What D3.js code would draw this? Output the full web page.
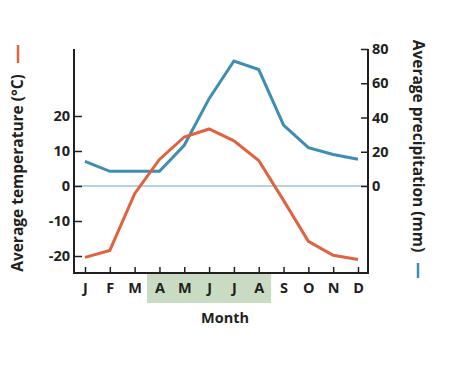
<!DOCTYPE html>
<html><head><meta charset="utf-8">
<script src="https://cdn.jsdelivr.net/npm/d3@7"></script>
<style>
body{margin:0;background:#fff;}
text{font-family:"Open Sans", Lato, sans-serif;font-weight:bold;fill:#231f20;}
</style></head>
<body><svg id="c" width="450" height="366"></svg>
<script>
const months = ["J","F","M","A","M","J","J","A","S","O","N","D"];
const temperature = [-20.4,-18.4,-2.2,7.6,14,16.3,12.9,7.3,-4.1,-15.8,-19.8,-21];
const precipitation = [14.4,8.6,8.6,8.6,23.8,51,73,68,35.5,22.4,18.4,15.6];
const tempTicks = [-20,-10,0,10,20];
const precipTicks = [0,20,40,60,80];
const growingMonths = [3,7]; // A..A index range

const svg = d3.select("#c");
const pLeft = 74, pRight = 368, pTop = 49, pBottom = 273;
const idx = months.map((d,i)=>i);
const x = d3.scalePoint().domain(idx).range([85,358]);
const yT = d3.scaleLinear().domain([-20,20]).range([256,116]);
const yP = d3.scaleLinear().domain([0,80]).range([186,49]);
const red = "#e0623f", blue = "#3d8db5";

// growing season band
const st = x.step();
svg.append("rect").attr("x", x(growingMonths[0]) - st/2).attr("width", x(growingMonths[1]) - x(growingMonths[0]) + st)
  .attr("y", pBottom + 1).attr("height", 29).attr("fill", "#c9dcc3");

// zero line
svg.append("line").attr("x1", pLeft).attr("x2", pRight).attr("y1", yT(0)).attr("y2", yT(0))
  .attr("stroke", "#9fc3dd").attr("stroke-width", 1.5);

// axes
const gL = svg.append("g").attr("transform",`translate(${pLeft},0)`)
  .call(d3.axisLeft(yT).tickValues(tempTicks).tickSize(-8).tickPadding(4).tickFormat(d=>String(d)));
const gR = svg.append("g").attr("transform",`translate(${pRight},0)`)
  .call(d3.axisRight(yP).tickValues(precipTicks).tickSize(-7).tickPadding(4).tickFormat(d=>String(d)));
const gB = svg.append("g").attr("transform",`translate(0,${pBottom})`)
  .call(d3.axisBottom(x).tickSize(-6).tickPadding(10).tickFormat(i=>months[i]));
[gL,gR,gB].forEach(g=>{
  g.select(".domain").remove();
  g.selectAll(".tick line").attr("stroke","#231f20").attr("stroke-width",1.5);
  g.selectAll(".tick text").style("font-size","14.5px").attr("fill","#231f20");
});
svg.append("path").attr("d",`M${pLeft},${pTop}V${pBottom}H${pRight}V${pTop}`)
  .attr("fill","none").attr("stroke","#231f20").attr("stroke-width",2);

// lines
const lineT = d3.line().x((d,i)=>x(i)).y(d=>yT(d));
const lineP = d3.line().x((d,i)=>x(i)).y(d=>yP(d));
svg.append("path").datum(precipitation).attr("d", lineP).attr("fill","none")
  .attr("stroke", blue).attr("stroke-width",3);
svg.append("path").datum(temperature).attr("d", lineT).attr("fill","none")
  .attr("stroke", red).attr("stroke-width",3);

// titles
svg.append("text").attr("x", (pLeft+pRight)/2 + 4).attr("y", 323).attr("text-anchor","middle")
  .style("font-size","14.5px").text("Month");
svg.append("text").attr("transform","translate(23,173) rotate(-90)").attr("text-anchor","middle")
  .style("font-size","15.5px").text("Average temperature (°C)");
svg.append("line").attr("x1",18).attr("x2",18).attr("y1",45).attr("y2",63).attr("stroke",red).attr("stroke-width",2.5);
svg.append("text").attr("transform","translate(413,146) rotate(90)").attr("text-anchor","middle")
  .style("font-size","15.5px").text("Average precipitation (mm)");
svg.append("line").attr("x1",418).attr("x2",418).attr("y1",263).attr("y2",278).attr("stroke",blue).attr("stroke-width",2.5);
</script></body></html>
